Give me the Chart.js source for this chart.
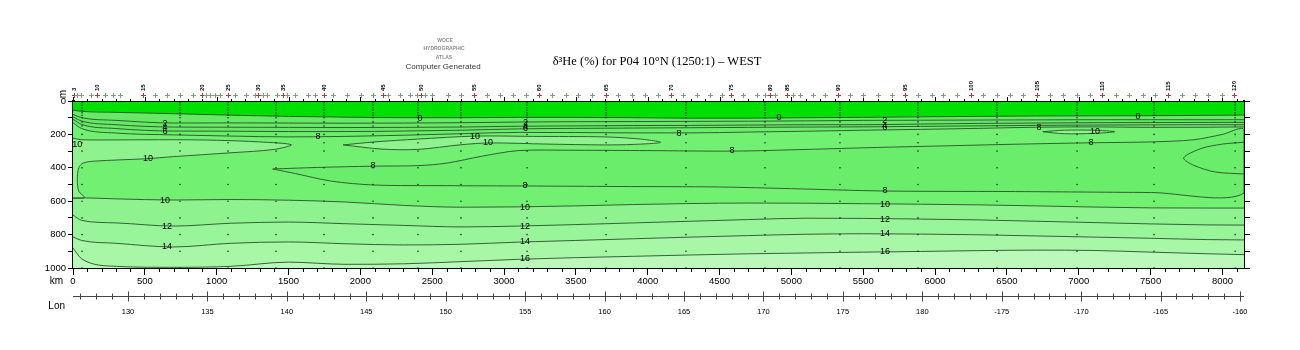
<!DOCTYPE html>
<html>
<head>
<meta charset="utf-8">
<title>P04 10N delta-3He section</title>
<script src="https://cdn.jsdelivr.net/npm/chart.js@4.4.1/dist/chart.umd.min.js"></script>
<style>
  html, body { margin: 0; padding: 0; background: #fff; }
  #section { display: block; }
</style>
</head>
<body>
<canvas id="section" width="1300" height="350"></canvas>
<script>
// SECTION DATA
// ============
// Contour depths (m) along the track, sampled at these distances (km)
const distKm  = [0, 60, 300, 700, 1100, 1500, 1900, 2300, 2700, 3100, 3500, 3900, 4300, 4700, 5100, 5500, 5900, 6300, 6700, 7100, 7500, 7900, 8150];
const depth0  = [55, 62, 68, 76, 85, 92, 97, 100, 100, 98, 98, 100, 103, 103, 100, 98, 95, 92, 90, 89, 88, 86, 84];
const depth2  = [80, 100, 116, 132, 131, 132, 133, 132, 130, 126, 124, 123, 122, 121, 119, 116, 115, 114, 113, 112, 112, 112, 112];
const depth4  = [95, 120, 142, 156, 157, 158, 159, 158, 156, 151, 149, 147, 146, 144, 142, 142, 138, 134, 132, 130, 129, 128, 128];
const depth6  = [110, 140, 165, 180, 181, 183, 183, 180, 175, 167, 164, 162, 160, 158, 156, 155, 152, 149, 146, 144, 143, 142, 142];
const depth8  = [130, 165, 192, 203, 210, 215, 212, 205, 196, 188, 189, 191, 191, 186, 181, 175, 170, 164, 157, 155, 158, 157, 155];
const depth10 = [582, 580, 586, 593, 590, 594, 605, 625, 636, 634, 628, 620, 614, 611, 612, 615, 618, 622, 628, 635, 640, 641, 641];
const depth12 = [683, 715, 730, 749, 732, 725, 735, 745, 754, 749, 740, 730, 720, 710, 702, 703, 707, 712, 720, 728, 736, 742, 743];
const depth14 = [814, 835, 852, 874, 852, 844, 855, 862, 858, 845, 835, 825, 815, 806, 798, 795, 797, 801, 808, 815, 822, 830, 832];
const depth16 = [880, 945, 990, 996, 990, 965, 978, 975, 962, 948, 938, 930, 922, 915, 910, 905, 901, 896, 893, 895, 905, 915, 920];
const floorKm    = [0, 8150];
const floorDepth = [1000, 1000];

// closed contours (outline points, km / m)
const lobeAKm    = [0, 60, 300, 700, 1000, 1300, 1520, 1400, 1100, 700, 500, 150, 70, 40, 30, 40, 80, 0];
const lobeADepth = [222, 232, 233, 232, 235, 245, 262, 290, 310, 333, 346, 360, 372, 400, 470, 540, 578, 582];
const lobeBKm    = [1880, 2100, 2400, 2800, 3200, 3700, 3950, 4090, 3900, 3700, 3300, 2900, 2700, 2400, 2150, 1880];
const lobeBDepth = [263, 245, 228, 210, 212, 215, 228, 248, 260, 263, 258, 251, 262, 290, 288, 263];
const lobeCKm    = [6750, 6900, 7100, 7250, 7100, 6900, 6750];
const lobeCDepth = [184, 175, 175, 184, 194, 196, 184];
const lowKm    = [1390, 1700, 2090, 2400, 2600, 2850, 3100, 3500, 4000, 4600, 5100, 5600, 6100, 6600, 7100, 7500, 7800, 8000, 8150,
                  8150, 7500, 7000, 6500, 5650, 5000, 4500, 3800, 3150, 2600, 2090, 1800, 1550, 1390];
const lowDepth = [407, 398, 390, 387, 372, 330, 297, 295, 297, 300, 290, 278, 268, 258, 250, 245, 232, 200, 172,
                  551, 548, 545, 542, 539, 525, 515, 512, 509, 507, 503, 480, 435, 407];
const eastKm    = [8150, 8000, 7850, 7730, 7800, 7950, 8150];
const eastDepth = [247, 258, 285, 341, 385, 425, 437];

// contour labels
const labelKm    = [2415, 4914, 7412, 640, 640, 640, 3150, 3150, 3150, 5650, 5650, 5650, 1705, 4218, 6723,
                    30, 522, 2798, 2888, 7113, 2088, 4587, 7085, 3146, 5651, 640, 3146, 5651,
                    654, 3146, 5651, 654, 3146, 5651, 3146, 5651];
const labelDepth = [102, 96, 90, 134, 158, 180, 126, 150, 166, 114, 144, 156, 215, 192, 156,
                    263, 347, 210, 251, 180, 389, 299, 251, 509, 539, 593, 635, 617,
                    749, 749, 707, 874, 844, 796, 946, 904];
const labelText  = ['0', '0', '0', '2', '4', '6', '2', '4', '6', '2', '4', '6', '8', '8', '8',
                    '10', '10', '10', '10', '10', '8', '8', '8', '8', '8', '10', '10', '10',
                    '12', '12', '12', '14', '14', '14', '16', '16'];

// axis ticks
const kmTicks    = [0, 500, 1000, 1500, 2000, 2500, 3000, 3500, 4000, 4500, 5000, 5500, 6000, 6500, 7000, 7500, 8000];
const lonTicks   = [130, 135, 140, 145, 150, 155, 160, 165, 170, 175, 180, 185, 190, 195, 200];
const depthTicks = [0, 100, 200, 300, 400, 500, 600, 700, 800, 900, 1000];

// stations along the track (km), tagged ones carry their number
const stationKm = [7, 28, 56, 125, 167, 223, 278, 327, 487, 571, 654, 745, 835, 898, 926, 953, 988, 1023, 1079, 1127,
                   1204, 1267, 1288, 1322, 1350, 1420, 1462, 1489, 1545, 1636, 1684, 1747, 1810, 1907, 2004, 2088, 2158,
                   2192, 2276, 2346, 2394, 2422, 2450, 2499, 2610, 2700, 2791, 2881, 2972, 3062, 3153, 3243, 3334, 3431,
                   3515, 3612, 3710, 3793, 3891, 3981, 4072, 4162, 4245, 4343, 4433, 4517, 4580, 4663, 4761, 4816, 4851,
                   4886, 4969, 5011, 5060, 5150, 5234, 5324, 5408, 5498, 5603, 5700, 5791, 5881, 5979, 6055, 6153, 6250,
                   6334, 6431, 6521, 6612, 6709, 6800, 6890, 6988, 7078, 7162, 7259, 7350, 7447, 7531, 7621, 7719, 7809,
                   7900, 7997, 8081];
const tagKm = [7, 167, 487, 898, 1079, 1288, 1462, 1747, 2158, 2422, 2791, 3243, 3710, 4162, 4580, 4851, 4969, 5324,
               5791, 6250, 6709, 7162, 7621, 8081];
const tagNo = ['3', '10', '15', '20', '25', '30', '35', '40', '45', '50', '55', '60', '65', '70', '75', '80', '85', '90',
               '95', '100', '105', '110', '115', '120'];

// bottle casts and their sampling depths
const castKm    = [63, 745, 1079, 1413, 1747, 2088, 2401, 2700, 3160, 3710, 4266, 4816, 5338, 5881, 6431, 6988, 7524, 8088];
const castDepth = [10, 25, 40, 55, 70, 85, 100, 125, 150, 200, 250, 300, 400, 500, 600, 700, 800, 900, 1000];

const TITLE = 'δ³He (%) for P04 10°N (1250:1) – WEST';

// band colours, shallow to deep
const COL_NEG  = '#00e000';
const COL_LOW  = '#66ea66';
const COL_8    = '#6aed6a';
const COL_8_10 = '#72f072';
const COL_10   = '#8ef38e';
const COL_12   = '#99f599';
const COL_14   = '#a7f7a7';
const COL_16   = '#baf9ba';
const LINE_COL = '#2b4f2b';

// HELPERS
// =======
const toPoints = (xs, ys) => xs.map((x, i) => ({ x, y: ys[i] }));
const fixTicks = (values) => (scale) => { scale.ticks = values.map((value) => ({ value })); };

// open contour across the whole section, filled up to the surface
function band(label, ys, colour) {
    return {
        label,
        data: toPoints(distKm, ys),
        borderColor: LINE_COL,
        borderWidth: 0.9,
        backgroundColor: colour,
        fill: { value: 0 },
        pointRadius: 0,
        cubicInterpolationMode: 'monotone',
    };
}

// closed contour, filled inside its own outline
function pocket(label, xs, ys, colour) {
    return {
        label,
        data: toPoints(xs, ys),
        borderColor: LINE_COL,
        borderWidth: 0.9,
        backgroundColor: colour,
        fill: colour ? 'shape' : false,
        pointRadius: 0,
        tension: 0.3,
    };
}

const castPoints = [];
castKm.forEach((km) => castDepth.forEach((d) => castPoints.push({ x: km, y: d })));

// DECORATIONS
// ===========
const sectionDecor = {
    id: 'sectionDecor',
    afterDatasetsDraw(chart) {
        const { ctx, scales } = chart;
        ctx.save();
        ctx.font = '9px "Liberation Sans"';
        ctx.textAlign = 'center';
        ctx.textBaseline = 'middle';
        ctx.fillStyle = '#000';
        labelText.forEach((t, i) => {
            ctx.fillText(t, scales.x.getPixelForValue(labelKm[i]), scales.y.getPixelForValue(labelDepth[i]));
        });
        ctx.restore();
    },
    afterDraw(chart) {
        const { ctx, chartArea: area, scales } = chart;
        const xs = scales.x;
        const lon = scales.lon;
        ctx.save();

        // heading
        ctx.fillStyle = '#000';
        ctx.textAlign = 'center';
        ctx.textBaseline = 'middle';
        ctx.font = '12.5px "Liberation Serif"';
        ctx.fillText(TITLE, 657, 62);
        ctx.fillStyle = '#8a8a8a';
        ctx.font = 'bold 5px "Liberation Sans"';
        ctx.fillText('WOCE', 445, 41);
        ctx.fillText('HYDROGRAPHIC', 444, 49);
        ctx.fillText('ATLAS', 444, 58);
        ctx.fillStyle = '#3a3a3a';
        ctx.font = '8px "Liberation Sans"';
        ctx.fillText('Computer Generated', 443, 67);

        // axis captions
        ctx.fillStyle = '#000';
        ctx.font = '10px "Liberation Sans"';
        ctx.textAlign = 'right';
        ctx.fillText('km', 63, 281);
        ctx.fillText('Lon', 65, 306);
        ctx.save();
        ctx.translate(63, 94);
        ctx.rotate(-Math.PI / 2);
        ctx.textAlign = 'center';
        ctx.fillText('m', 0, 0);
        ctx.restore();

        // top edge and 100 km ticks
        ctx.strokeStyle = '#000';
        ctx.lineWidth = 1;
        ctx.beginPath();
        ctx.moveTo(area.left, area.top + 0.5);
        ctx.lineTo(area.right, area.top + 0.5);
        for (let km = 100; km <= 8100; km += 100) {
            if (km % 500 === 0) continue;
            const px = Math.round(xs.getPixelForValue(km)) + 0.5;
            ctx.moveTo(px, area.bottom);
            ctx.lineTo(px, area.bottom + 4);
        }
        for (let km = 0; km <= 8100; km += 100) {
            const px = Math.round(xs.getPixelForValue(km)) + 0.5;
            ctx.moveTo(px, area.top);
            ctx.lineTo(px, area.top - (km % 500 === 0 ? 4 : 2));
        }
        ctx.stroke();

        // station crosses
        const sy = area.top - 5.5;
        stationKm.forEach((km) => {
            const px = Math.round(xs.getPixelForValue(km)) + 0.5;
            const tagged = tagKm.includes(km);
            ctx.strokeStyle = tagged ? '#b63a3a' : '#7ea27e';
            ctx.beginPath();
            ctx.moveTo(px - 2.5, sy);
            ctx.lineTo(px + 2.5, sy);
            ctx.moveTo(px, sy - 2.5);
            ctx.lineTo(px, sy + 2.5);
            ctx.stroke();
        });
        ctx.fillStyle = '#000';
        ctx.font = 'bold 6px "Liberation Sans"';
        ctx.textAlign = 'left';
        tagKm.forEach((km, i) => {
            ctx.save();
            ctx.translate(xs.getPixelForValue(km), area.top - 10);
            ctx.rotate(-Math.PI / 2);
            ctx.fillText(tagNo[i], 0, 0);
            ctx.restore();
        });

        // longitude scale
        const ly = 296.5;
        ctx.strokeStyle = '#444';
        ctx.beginPath();
        ctx.moveTo(area.left, ly);
        ctx.lineTo(area.right, ly);
        for (let d = 127; d <= 200; d++) {
            const px = Math.round(lon.getPixelForValue(d)) + 0.5;
            const h = d % 5 === 0 ? 5 : 3;
            ctx.moveTo(px, ly - h);
            ctx.lineTo(px, ly + h);
        }
        ctx.stroke();
        ctx.restore();
    },
};

// CHART
// =====
const ctx = document.getElementById('section').getContext('2d');
new Chart(ctx, {
    type: 'line',
    data: {
        datasets: [
            {
                label: 'bottles',
                data: castPoints,
                showLine: false,
                pointRadius: 0.8,
                pointBorderWidth: 0,
                pointBackgroundColor: '#1c2c1c',
            },
            pocket('east 6', eastKm, eastDepth, null),
            pocket('east 10', lobeCKm, lobeCDepth, COL_10),
            pocket('mid 10', lobeBKm, lobeBDepth, COL_10),
            pocket('west 10', lobeAKm, lobeADepth, COL_10),
            pocket('core 8', lowKm, lowDepth, COL_8),
            band('0', depth0, COL_NEG),
            band('2', depth2, COL_LOW),
            band('4', depth4, COL_LOW),
            band('6', depth6, COL_LOW),
            band('8', depth8, COL_8),
            band('10', depth10, COL_8_10),
            band('12', depth12, COL_10),
            band('14', depth14, COL_12),
            band('16', depth16, COL_14),
            {
                label: 'floor',
                data: toPoints(floorKm, floorDepth),
                borderWidth: 0,
                backgroundColor: COL_16,
                fill: { value: 0 },
                pointRadius: 0,
            },
        ],
    },
    options: {
        responsive: false,
        animation: false,
        events: [],
        layout: { padding: { top: 101, left: 0, right: 0, bottom: 20 } },
        plugins: {
            legend: { display: false },
            tooltip: { enabled: false },
            filler: { drawTime: 'beforeDatasetsDraw' },
        },
        scales: {
            x: {
                type: 'linear',
                position: 'bottom',
                weight: 0,
                min: 0,
                max: 8150,
                afterFit: (s) => { s.height = 22; },
                afterBuildTicks: fixTicks(kmTicks),
                border: { display: true, color: '#000', width: 2 },
                grid: { drawOnChartArea: false, tickLength: 7, tickColor: '#000' },
                ticks: {
                    autoSkip: false,
                    maxRotation: 0,
                    padding: 1,
                    color: '#000',
                    font: { family: 'Liberation Sans', size: 9.5 },
                    callback: (v) => String(v),
                },
            },
            lon: {
                type: 'linear',
                position: 'bottom',
                weight: 1,
                min: 126.54,
                max: 200.25,
                afterFit: (s) => { s.height = 40; },
                afterBuildTicks: fixTicks(lonTicks),
                border: { display: false },
                grid: { drawOnChartArea: false, tickLength: 14, tickColor: 'rgba(0,0,0,0)' },
                ticks: {
                    autoSkip: false,
                    maxRotation: 0,
                    padding: 3,
                    color: '#000',
                    font: { family: 'Liberation Sans', size: 7.5 },
                    callback: (v) => String(v > 180 ? v - 360 : v),
                },
            },
            y: {
                type: 'linear',
                position: 'left',
                reverse: true,
                min: 0,
                max: 1000,
                afterFit: (s) => { s.width = 73; },
                afterBuildTicks: fixTicks(depthTicks),
                border: { display: true, color: '#000', width: 3 },
                grid: { drawOnChartArea: false, tickLength: 5, tickColor: '#000' },
                ticks: {
                    autoSkip: false,
                    padding: 2,
                    color: '#000',
                    font: { family: 'Liberation Sans', size: 9.5 },
                    callback: (v) => (v % 200 === 0 ? String(v) : ''),
                },
            },
            yR: {
                type: 'linear',
                position: 'right',
                reverse: true,
                min: 0,
                max: 1000,
                afterFit: (s) => { s.width = 56; },
                afterBuildTicks: fixTicks(depthTicks),
                border: { display: true, color: '#000', width: 2 },
                grid: { drawOnChartArea: false, tickLength: 6, tickColor: '#000' },
                ticks: { autoSkip: false, callback: () => '' },
            },
        },
    },
    plugins: [sectionDecor],
});
</script>
</body>
</html>
